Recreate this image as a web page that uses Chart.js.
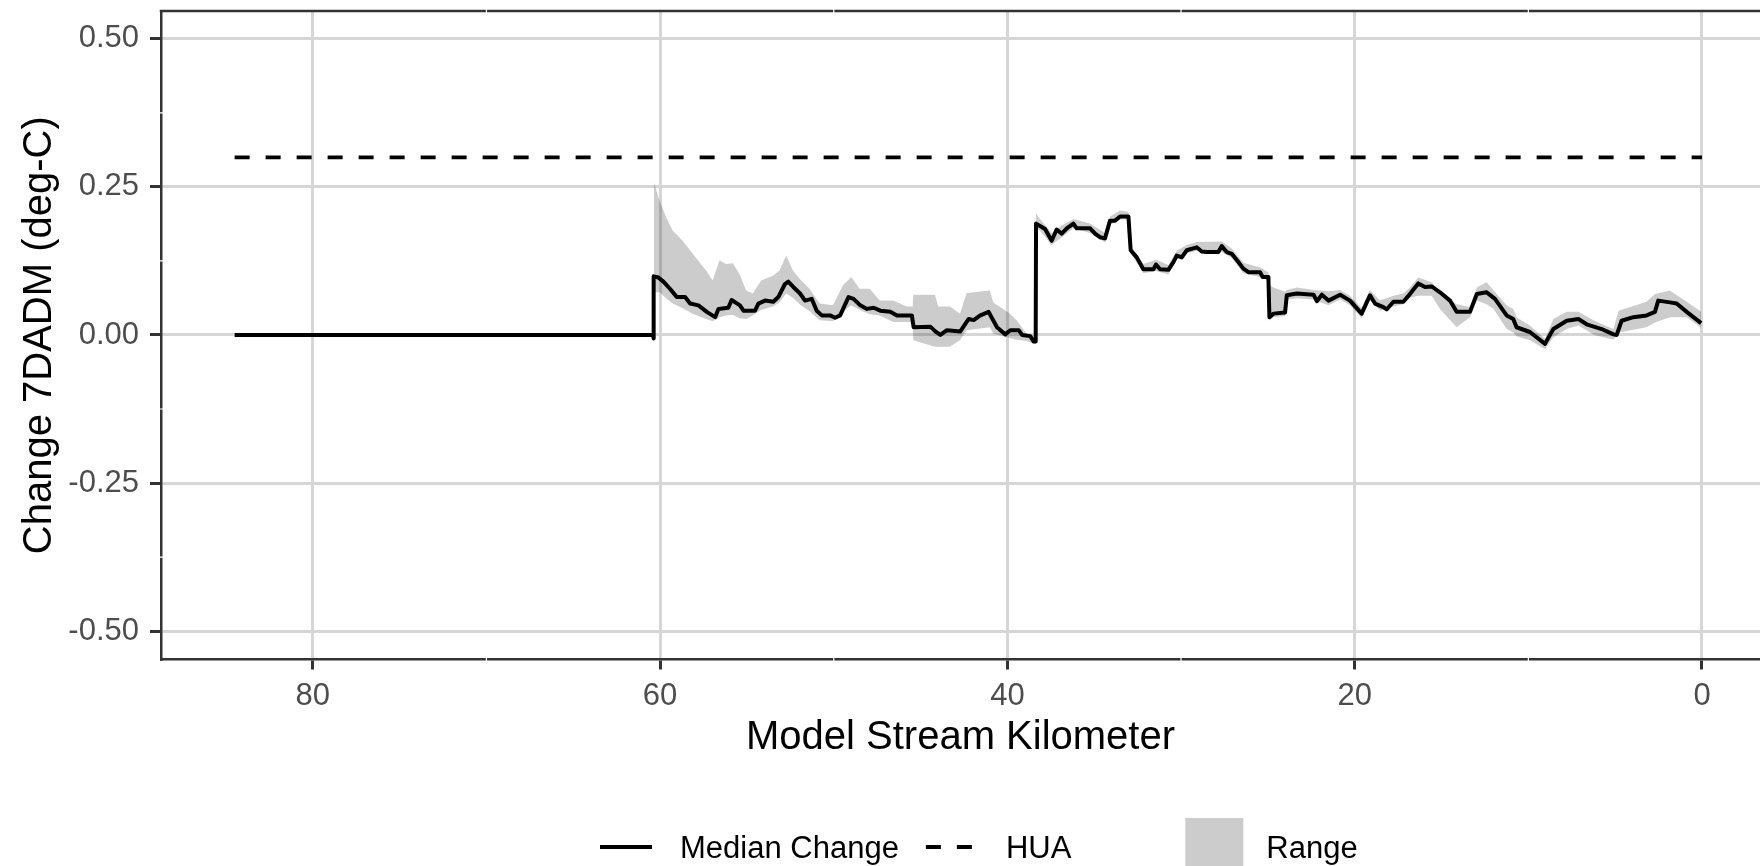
<!DOCTYPE html>
<html>
<head>
<meta charset="utf-8">
<script src="https://cdn.jsdelivr.net/npm/chart.js@4.4.1/dist/chart.umd.min.js"></script>
<style>
  html, body { margin: 0; padding: 0; background: #fff; }
  #wrap { width: 1760px; height: 866px; }
</style>
</head>
<body>
<div id="wrap"><canvas id="chart" width="1760" height="866"></canvas></div>
<script>
const FONT = '"Liberation Sans", Arial, Helvetica, sans-serif';

// axis ticks
const xTicks = [80, 60, 40, 20, 0];
const yTicks = [-0.5, -0.25, 0, 0.25, 0.5];
const xMinor = [70, 50, 30, 10];
const yMinor = [-0.375, -0.125, 0.125, 0.375];

// median change along the stream (km, deg-C)
const medianKm = [84.5, 60.40, 60.38, 60.36, 60.10, 59.81, 59.43, 59.04, 58.56, 58.27, 57.79, 57.31, 56.83, 56.64,
  56.07, 55.88, 55.40, 55.20, 54.53, 54.34, 53.96, 53.48, 53.19, 52.81, 52.62, 52.33, 51.94, 51.65, 51.27, 50.98,
  50.69, 50.21, 49.92, 49.63, 49.15, 48.86, 48.47, 48.09, 47.70, 47.32, 46.74, 46.36, 45.50, 45.40, 44.44, 44.15,
  43.86, 43.48, 42.71, 42.23, 41.94, 41.56, 41.08, 40.60, 40.12, 39.83, 39.35, 39.16, 38.68, 38.49, 38.37, 38.35,
  38.12, 37.83, 37.45, 37.16, 36.87, 36.58, 36.20, 36.01, 35.24, 34.95, 34.67, 34.38, 34.09, 33.80, 33.51, 33.03,
  32.90, 32.55, 32.17, 31.59, 31.44, 31.21, 30.73, 30.44, 30.25, 29.96, 29.67, 29.10, 28.81, 28.52, 27.85, 27.66,
  27.37, 27.08, 26.70, 26.41, 26.12, 25.45, 25.30, 24.97, 24.91, 24.68, 24.01, 23.91, 23.33, 22.37, 22.18, 21.89,
  21.51, 20.84, 20.27, 19.60, 19.12, 18.83, 18.35, 18.16, 17.77, 17.20, 16.82, 16.34, 15.95, 15.57, 15.09, 14.51,
  14.13, 13.36, 12.97, 12.40, 11.92, 11.25, 10.87, 10.68, 9.91, 9.04, 8.56, 7.79, 7.12, 6.64, 5.78, 5.10, 4.91,
  4.63, 3.95, 3.19, 2.71, 2.52, 1.85, 1.46, 0.88, 0.05];
const medianVal = [0, 0, -0.006, 0.099, 0.097, 0.090, 0.078, 0.064, 0.064, 0.053, 0.050, 0.039, 0.030, 0.044,
  0.046, 0.059, 0.050, 0.041, 0.041, 0.053, 0.058, 0.056, 0.064, 0.086, 0.090, 0.081, 0.070, 0.058, 0.061, 0.041,
  0.033, 0.033, 0.029, 0.033, 0.064, 0.061, 0.050, 0.044, 0.046, 0.041, 0.039, 0.033, 0.033, 0.013, 0.014, 0.006,
  0.000, 0.008, 0.006, 0.027, 0.025, 0.033, 0.039, 0.013, 0.001, 0.008, 0.008, 0.000, -0.002, -0.011, -0.011, 0.188,
  0.184, 0.179, 0.159, 0.178, 0.171, 0.180, 0.188, 0.180, 0.180, 0.171, 0.165, 0.163, 0.193, 0.193, 0.200, 0.200,
  0.143, 0.131, 0.111, 0.111, 0.119, 0.111, 0.110, 0.123, 0.134, 0.131, 0.143, 0.148, 0.141, 0.140, 0.140, 0.150,
  0.140, 0.137, 0.123, 0.112, 0.106, 0.106, 0.098, 0.098, 0.030, 0.036, 0.038, 0.067, 0.070, 0.068, 0.057, 0.068,
  0.058, 0.068, 0.058, 0.036, 0.067, 0.053, 0.047, 0.043, 0.056, 0.056, 0.069, 0.087, 0.081, 0.082, 0.072, 0.058,
  0.039, 0.039, 0.069, 0.072, 0.061, 0.033, 0.027, 0.013, 0.005, -0.015, 0.010, 0.024, 0.027, 0.018, 0.010, 0.001, 0.000,
  0.024, 0.030, 0.033, 0.039, 0.058, 0.055, 0.053, 0.039, 0.020];

// HUA threshold
const huaKm = [84.5, 0];
const huaVal = [0.3, 0.3];

// range band (upper / lower)
const rangeKm = [60.36, 60.03, 59.66, 59.27, 58.70, 58.12, 57.35, 56.97, 56.58, 56.20, 55.81, 55.43, 55.04, 54.66,
  54.18, 53.50, 53.12, 52.74, 52.35, 51.97, 51.39, 50.81, 50.04, 49.47, 48.99, 48.51, 47.93, 47.35, 46.58, 45.81,
  45.45, 45.42, 44.18, 43.98, 43.31, 42.73, 42.35, 41.01, 40.81, 40.24, 39.85, 39.47, 38.89, 38.49, 38.37, 38.35,
  38.12, 37.45, 36.87, 36.20, 35.24, 34.38, 34.09, 33.51, 33.03, 32.90, 32.17, 31.44, 30.73, 30.25, 29.67, 29.10,
  27.66, 27.08, 26.41, 25.45, 24.97, 24.91, 24.68, 24.01, 23.91, 23.33, 22.37, 21.51, 20.84, 20.27, 19.60, 19.12,
  18.54, 17.77, 17.20, 16.82, 16.34, 15.57, 15.09, 14.13, 13.36, 12.97, 12.40, 12.00, 11.25, 10.87, 10.68, 9.91,
  9.04, 8.56, 7.79, 7.12, 6.20, 5.10, 4.80, 3.19, 2.71, 1.85, 0.88, 0.05];
const rangeUpper = [0.258, 0.227, 0.199, 0.176, 0.159, 0.137, 0.109, 0.092, 0.126, 0.120, 0.121, 0.103, 0.075, 0.070,
  0.092, 0.100, 0.109, 0.134, 0.109, 0.095, 0.078, 0.053, 0.050, 0.084, 0.098, 0.078, 0.078, 0.058, 0.058, 0.048,
  0.048, 0.068, 0.068, 0.048, 0.048, 0.036, 0.071, 0.075, 0.055, 0.044, 0.036, 0.025, 0.002, -0.009, -0.009, 0.205,
  0.196, 0.172, 0.185, 0.196, 0.188, 0.172, 0.200, 0.210, 0.208, 0.150, 0.120, 0.127, 0.118, 0.142, 0.152, 0.157,
  0.158, 0.146, 0.122, 0.114, 0.106, 0.084, 0.080, 0.073, 0.076, 0.080, 0.076, 0.074, 0.076, 0.066, 0.046, 0.076,
  0.058, 0.066, 0.070, 0.080, 0.097, 0.089, 0.072, 0.052, 0.047, 0.080, 0.089, 0.075, 0.050, 0.044, 0.030, 0.016,
  -0.007, 0.027, 0.039, 0.039, 0.024, 0.010, 0.041, 0.056, 0.069, 0.075, 0.056, 0.039];
const rangeLower = [0.072, 0.072, 0.062, 0.053, 0.045, 0.036, 0.027, 0.023, 0.030, 0.033, 0.034, 0.028, 0.027, 0.033,
  0.042, 0.048, 0.055, 0.070, 0.063, 0.052, 0.040, 0.025, 0.023, 0.040, 0.050, 0.042, 0.035, 0.033, 0.022, 0.022,
  0.022, -0.009, -0.020, -0.020, -0.020, -0.009, 0.008, 0.013, 0.002, -0.002, -0.005, -0.008, -0.010, -0.015, -0.015, 0.180,
  0.176, 0.152, 0.165, 0.180, 0.172, 0.156, 0.186, 0.195, 0.195, 0.138, 0.104, 0.108, 0.102, 0.127, 0.138, 0.142,
  0.140, 0.130, 0.104, 0.098, 0.091, 0.024, 0.030, 0.032, 0.060, 0.062, 0.060, 0.050, 0.060, 0.050, 0.028, 0.058,
  0.041, 0.048, 0.052, 0.063, 0.066, 0.066, 0.044, 0.013, 0.030, 0.058, 0.052, 0.044, 0.010, 0.004, -0.002, -0.009,
  -0.024, -0.004, 0.010, 0.016, 0.000, -0.008, 0.004, 0.013, 0.021, 0.030, 0.030, 0.012];

const pts = (xs, ys) => xs.map((x, i) => ({ x: x, y: ys[i] }));

// top panel border + white minor breaks over the frame (ggplot look)
const panelFrame = {
  id: 'panelFrame',
  afterDraw(chart) {
    const { ctx, chartArea: a, scales } = chart;
    ctx.save();
    ctx.strokeStyle = '#333333';
    ctx.lineWidth = 2.5;
    ctx.beginPath();
    ctx.moveTo(a.left - 1.25, a.top);
    ctx.lineTo(a.right, a.top);
    ctx.stroke();
    ctx.strokeStyle = '#ffffff';
    ctx.lineWidth = 1.2;
    ctx.beginPath();
    xMinor.forEach(v => {
      const px = scales.x.getPixelForValue(v);
      ctx.moveTo(px, a.top - 2); ctx.lineTo(px, a.top + 2);
      ctx.moveTo(px, a.bottom - 2); ctx.lineTo(px, a.bottom + 2);
    });
    yMinor.forEach(v => {
      const py = scales.y.getPixelForValue(v);
      ctx.moveTo(a.left - 2, py); ctx.lineTo(a.left + 2, py);
    });
    ctx.stroke();
    ctx.restore();
  }
};

// bottom legend: linetype keys + fill key
const keyLegend = {
  id: 'keyLegend',
  afterDraw(chart) {
    const ctx = chart.ctx;
    const ds = chart.data.datasets;
    const cy = 847;
    ctx.save();
    ctx.font = '31px ' + FONT;
    ctx.fillStyle = '#000000';
    ctx.textBaseline = 'alphabetic';
    let x = 600;
    [ds[0], ds[1]].forEach((d) => {
      ctx.strokeStyle = d.borderColor;
      ctx.lineWidth = d.borderWidth;
      ctx.setLineDash(d.borderDash || []);
      ctx.beginPath();
      ctx.moveTo(x, cy); ctx.lineTo(x + 52, cy);
      ctx.stroke();
      ctx.setLineDash([]);
      x += 52 + 28;
      ctx.fillText(d.label, x, cy + 10.5);
      x += ctx.measureText(d.label).width + 27;
    });
    x += 87;
    ctx.fillStyle = 'rgb(204,204,204)';
    ctx.fillRect(x, cy - 29, 58, 58);
    ctx.fillStyle = '#000000';
    ctx.fillText(ds[2].label, x + 58 + 23, cy + 10.5);
    ctx.restore();
  }
};

new Chart(document.getElementById('chart'), {
  type: 'line',
  data: {
    datasets: [
      {
        label: 'Median Change',
        data: pts(medianKm, medianVal),
        borderColor: '#000000',
        borderWidth: 4,
        borderJoinStyle: 'round',
        pointRadius: 0,
        fill: false
      },
      {
        label: 'HUA',
        data: pts(huaKm, huaVal),
        borderColor: '#000000',
        borderWidth: 3.8,
        borderDash: [15, 16],
        pointRadius: 0,
        fill: false
      },
      {
        label: 'Range',
        data: pts(rangeKm, rangeUpper),
        borderWidth: 0,
        borderColor: 'rgba(0,0,0,0)',
        backgroundColor: 'rgba(0,0,0,0.2)',
        pointRadius: 0,
        fill: '+1'
      },
      {
        label: 'Range low',
        data: pts(rangeKm, rangeLower),
        borderWidth: 0,
        borderColor: 'rgba(0,0,0,0)',
        pointRadius: 0,
        fill: false
      }
    ]
  },
  options: {
    responsive: false,
    devicePixelRatio: 1,
    animation: false,
    layout: { padding: { left: 0, right: 0, top: 11, bottom: 102.5 } },
    plugins: {
      legend: { display: false },
      tooltip: { enabled: false }
    },
    scales: {
      x: {
        type: 'linear',
        reverse: true,
        min: -3.34,
        max: 88.74,
        afterBuildTicks: (s) => { s.ticks = xTicks.map(v => ({ value: v })); },
        afterFit: (s) => { s.height = 104; s.paddingLeft = 0; s.paddingRight = 0; },
        ticks: {
          color: '#4d4d4d',
          font: { family: FONT, size: 31 },
          padding: 8,
          maxRotation: 0,
          callback: (v) => String(v)
        },
        grid: { color: '#d6d6d6', lineWidth: 3, tickLength: 10, tickColor: '#333333', tickWidth: 3 },
        border: { display: true, color: '#333333', width: 2.5 },
        title: {
          display: true,
          text: 'Model Stream Kilometer',
          color: '#000000',
          font: { family: FONT, size: 40 },
          padding: { top: 0, bottom: 2 }
        }
      },
      y: {
        type: 'linear',
        min: -0.548,
        max: 0.547,
        afterBuildTicks: (s) => { s.ticks = yTicks.map(v => ({ value: v })); },
        afterFit: (s) => { s.width = 161; s.paddingTop = 0; s.paddingBottom = 0; },
        ticks: {
          color: '#4d4d4d',
          font: { family: FONT, size: 31 },
          padding: 11,
          callback: (v) => v.toFixed(2)
        },
        grid: { color: '#d6d6d6', lineWidth: 3, tickLength: 11, tickColor: '#333333', tickWidth: 3 },
        border: { display: true, color: '#333333', width: 2.5 },
        title: {
          display: true,
          text: 'Change 7DADM (deg-C)',
          color: '#000000',
          font: { family: FONT, size: 40 },
          padding: { top: 16, bottom: 0 }
        }
      }
    }
  },
  plugins: [panelFrame, keyLegend]
});
</script>
</body>
</html>
